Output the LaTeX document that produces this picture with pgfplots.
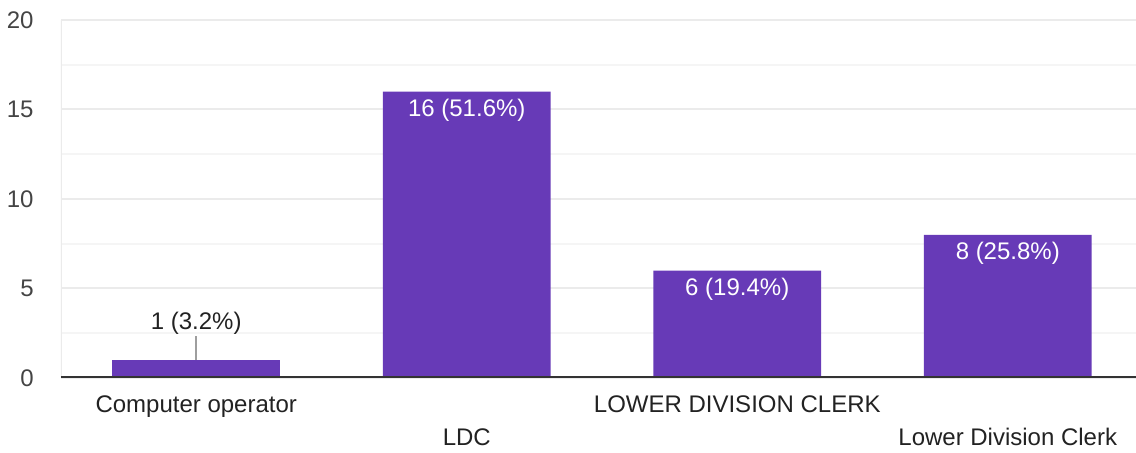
\documentclass[border=0pt]{standalone}
\usepackage{pgfplots}
\pgfplotsset{compat=1.18}
\usepackage{fontspec}
\setmainfont{Liberation Sans}

\definecolor{barpurple}{HTML}{673AB7}
\definecolor{gridmajor}{HTML}{EBEBEB}
\definecolor{gridminor}{HTML}{F5F5F5}
\definecolor{zeroline}{HTML}{333333}
\definecolor{ticktext}{HTML}{444444}
\definecolor{labeldark}{HTML}{222222}
\definecolor{leadgray}{HTML}{9E9E9E}

\begin{document}
\begin{tikzpicture}
\begin{axis}[
  at={(0,0)}, anchor=south west,
  scale only axis, width=537.5pt, height=179pt,
  xmin=-0.5, xmax=3.474, ymin=0, ymax=20,
  axis line style={draw=none},
  major tick length=0pt, minor tick length=0pt,
  ytick={0,5,10,15,20},
  minor ytick={2.5,7.5,12.5,17.5},
  ymajorgrids, yminorgrids,
  major grid style={gridmajor, line width=1pt},
  minor grid style={gridminor, line width=1pt},
  /pgf/number format/assume math mode=true,
  ticklabel style={font=\fontsize{12}{14}\selectfont, text=ticktext},
  yticklabel style={anchor=east, inner sep=0pt, xshift=-13.5pt},
  xtick={0,2},
  xticklabels={Computer operator, LOWER DIVISION CLERK},
  extra x ticks={1,3},
  extra x tick labels={LDC, Lower Division Clerk},
  xticklabel style={anchor=base, inner sep=0pt, yshift=-17.5pt, text=labeldark},
  extra x tick style={xmajorgrids=false, xticklabel style={yshift=-16.5pt}},
]
% left edge of the plot area
\draw[gridmajor, line width=1pt] (rel axis cs:0,0) -- (rel axis cs:0,1);

% bars with the count inside
\addplot[ybar, bar width=0.62, bar shift=0pt, fill=barpurple, draw=none,
  nodes near coords, point meta=explicit symbolic,
  nodes near coords style={anchor=north, yshift=-3.5pt, inner sep=0pt,
    text=white, font=\fontsize{12}{14}\selectfont}]
  coordinates {(1,16) [16 (51.6\%)] (2,6) [6 (19.4\%)] (3,8) [8 (25.8\%)]};

% short bar with the count above it
\addplot[ybar, bar width=0.62, bar shift=0pt, fill=barpurple, draw=none,
  nodes near coords, point meta=explicit symbolic,
  nodes near coords style={anchor=south, yshift=12.5pt, inner sep=0pt,
    text=labeldark, font=\fontsize{12}{14}\selectfont}]
  coordinates {(0,1) [1 (3.2\%)]};
\draw[leadgray, line width=1pt] (axis cs:0,1) -- ++(0pt,12pt);

% baseline
\draw[zeroline, line width=1.5pt] (rel axis cs:0,0) -- (rel axis cs:1,0);
\end{axis}
\pgfresetboundingbox
\path[use as bounding box] (-30.5pt,-37.5pt) rectangle (537.5pt,189pt);
\end{tikzpicture}
\end{document}
